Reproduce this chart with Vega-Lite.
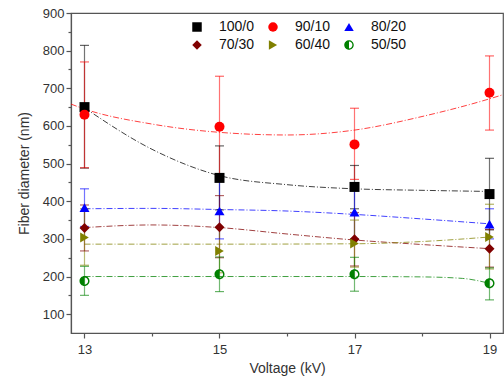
{
  "$schema": "https://vega.github.io/schema/vega-lite/v6.json",
  "width": 432,
  "height": 320,
  "autosize": {"type": "none"},
  "padding": {"left": 71, "top": 13, "right": 1, "bottom": 47},
  "background": "white",
  "config": {
    "view": {"stroke": "#555", "strokeWidth": 1.2},
    "font": "Liberation Sans",
    "axis": {"labelFont": "Liberation Sans", "titleFont": "Liberation Sans", "labelColor": "#333", "titleColor": "#333", "domainColor": "#555", "tickColor": "#555", "domainWidth": 1.2, "tickWidth": 1.2, "grid": false, "titleFontWeight": "normal", "labelFontSize": 13, "titleFontSize": 14, "labelOverlap": false},
    "axisY": {"labelOverlap": false}
  },
  "datasets": {
    "pts": [
      {"s": "100/0", "v": 13, "d": 650, "lo": 488, "hi": 814},
      {"s": "100/0", "v": 15, "d": 462, "lo": 377, "hi": 547},
      {"s": "100/0", "v": 17, "d": 438, "lo": 380, "hi": 495},
      {"s": "100/0", "v": 19, "d": 419, "lo": 324, "hi": 514},
      {"s": "90/10", "v": 13, "d": 630, "lo": 489, "hi": 770},
      {"s": "90/10", "v": 15, "d": 598, "lo": 464, "hi": 732},
      {"s": "90/10", "v": 17, "d": 551, "lo": 458, "hi": 647},
      {"s": "90/10", "v": 19, "d": 688, "lo": 589, "hi": 786},
      {"s": "80/20", "v": 13, "d": 383, "lo": 333, "hi": 433},
      {"s": "80/20", "v": 15, "d": 374, "lo": 300, "hi": 455},
      {"s": "80/20", "v": 17, "d": 371, "lo": 300, "hi": 440},
      {"s": "80/20", "v": 19, "d": 339, "lo": 300, "hi": 380},
      {"s": "70/30", "v": 13, "d": 329, "lo": 268, "hi": 390},
      {"s": "70/30", "v": 15, "d": 331, "lo": 250, "hi": 415},
      {"s": "70/30", "v": 17, "d": 299, "lo": 228, "hi": 370},
      {"s": "70/30", "v": 19, "d": 274, "lo": 225, "hi": 325},
      {"s": "60/40", "v": 13, "d": 304, "lo": 230, "hi": 380},
      {"s": "60/40", "v": 15, "d": 268, "lo": 210, "hi": 330},
      {"s": "60/40", "v": 17, "d": 288, "lo": 225, "hi": 350},
      {"s": "60/40", "v": 19, "d": 305, "lo": 220, "hi": 392},
      {"s": "50/50", "v": 13, "d": 188, "lo": 150, "hi": 227},
      {"s": "50/50", "v": 15, "d": 206, "lo": 160, "hi": 252},
      {"s": "50/50", "v": 17, "d": 206, "lo": 161, "hi": 251},
      {"s": "50/50", "v": 19, "d": 182, "lo": 138, "hi": 223}
    ],
    "fits": [
      {"s": "90/10", "v": 12.8, "f": 658},
      {"s": "90/10", "v": 13, "f": 645},
      {"s": "90/10", "v": 14, "f": 605},
      {"s": "90/10", "v": 15, "f": 583},
      {"s": "90/10", "v": 16, "f": 576},
      {"s": "90/10", "v": 17, "f": 589},
      {"s": "90/10", "v": 18, "f": 625},
      {"s": "90/10", "v": 19, "f": 672},
      {"s": "90/10", "v": 19.2, "f": 683},
      {"s": "100/0", "v": 13, "f": 648},
      {"s": "100/0", "v": 14, "f": 538},
      {"s": "100/0", "v": 15, "f": 468},
      {"s": "100/0", "v": 16, "f": 444},
      {"s": "100/0", "v": 17, "f": 433},
      {"s": "100/0", "v": 18, "f": 429},
      {"s": "100/0", "v": 19, "f": 426},
      {"s": "80/20", "v": 13, "f": 380},
      {"s": "80/20", "v": 14, "f": 381},
      {"s": "80/20", "v": 15, "f": 378},
      {"s": "80/20", "v": 16, "f": 374},
      {"s": "80/20", "v": 17, "f": 365},
      {"s": "80/20", "v": 18, "f": 353},
      {"s": "80/20", "v": 19, "f": 340},
      {"s": "70/30", "v": 13, "f": 330},
      {"s": "70/30", "v": 14, "f": 337},
      {"s": "70/30", "v": 15, "f": 330},
      {"s": "70/30", "v": 16, "f": 313},
      {"s": "70/30", "v": 17, "f": 297},
      {"s": "70/30", "v": 18, "f": 285},
      {"s": "70/30", "v": 19, "f": 274},
      {"s": "60/40", "v": 13, "f": 286},
      {"s": "60/40", "v": 15, "f": 286},
      {"s": "60/40", "v": 17, "f": 287},
      {"s": "60/40", "v": 18, "f": 293},
      {"s": "60/40", "v": 19, "f": 305},
      {"s": "50/50", "v": 13, "f": 200},
      {"s": "50/50", "v": 15, "f": 200},
      {"s": "50/50", "v": 17, "f": 200},
      {"s": "50/50", "v": 18, "f": 199},
      {"s": "50/50", "v": 18.6, "f": 195},
      {"s": "50/50", "v": 19, "f": 182}
    ]
  },
  "encoding": {
    "x": {"field": "v", "type": "quantitative", "scale": {"domain": [12.8, 19.2], "nice": false, "zero": false},
      "axis": {"title": "Voltage (kV)", "values": [13, 14, 15, 16, 17, 18, 19], "labelOverlap": false, "labelPadding": 5, "labelExpr": "datum.value % 2 === 1 ? datum.label : ''", "tickSize": {"condition": {"test": "datum.value % 2 === 1", "value": 5}, "value": 3}, "titlePadding": 5}},
    "y": {"type": "quantitative", "scale": {"domain": [50, 900], "nice": false, "zero": false},
      "axis": {"title": "Fiber diameter (nm)", "values": [100, 150, 200, 250, 300, 350, 400, 450, 500, 550, 600, 650, 700, 750, 800, 850, 900], "labelOverlap": false, "labelExpr": "datum.value % 100 == 0 ? format(datum.value, 'd') : ''", "tickSize": {"condition": {"test": "datum.value % 100 == 0", "value": 5}, "value": 3}, "titlePadding": 11}},
    "color": {"field": "s", "type": "nominal", "scale": {"domain": ["100/0", "90/10", "80/20", "70/30", "60/40", "50/50"], "range": ["#000000", "#ff0000", "#0000ff", "#800000", "#808000", "#008000"]},
      "legend": {"title": null, "orient": "none", "legendX": 119, "legendY": 7, "direction": "horizontal", "columns": 3, "columnPadding": 11, "rowPadding": 4, "labelFontSize": 14, "labelFont": "Liberation Sans", "labelColor": "#111", "labelOffset": 15, "symbolSize": 90, "symbolStrokeWidth": 0, "gridAlign": "all", "symbolOpacity": 1}}
  },
  "layer": [
    {
      "data": {"name": "fits"},
      "mark": {"type": "line", "interpolate": "monotone", "strokeWidth": 1, "strokeDash": [6, 2, 1, 2], "opacity": 0.75, "clip": true},
      "encoding": {
        "y": {"field": "f", "type": "quantitative"}
      }
    },
    {
      "data": {"name": "pts"},
      "mark": {"type": "rule", "strokeWidth": 1.2, "opacity": 0.55},
      "encoding": {
        "y": {"field": "lo", "type": "quantitative"},
        "y2": {"field": "hi"}
      }
    },
    {
      "data": {"name": "pts"},
      "mark": {"type": "tick", "orient": "horizontal", "size": 9, "thickness": 1.2, "opacity": 0.6},
      "encoding": {
        "y": {"field": "lo", "type": "quantitative"}
      }
    },
    {
      "data": {"name": "pts"},
      "mark": {"type": "tick", "orient": "horizontal", "size": 9, "thickness": 1.2, "opacity": 0.6},
      "encoding": {
        "y": {"field": "hi", "type": "quantitative"}
      }
    },
    {
      "data": {"name": "pts"},
      "mark": {"type": "point", "filled": true, "opacity": 1, "size": 100},
      "encoding": {
        "y": {"field": "d", "type": "quantitative"},
        "shape": {"field": "s", "type": "nominal", "scale": {"domain": ["100/0", "90/10", "80/20", "70/30", "60/40", "50/50"], "range": ["square", "circle", "triangle-up", "diamond", "triangle-right", "M0,-1A1,1 0 0,0 0,1Z M0,-1A1,1 0 0,1 0,1L0,0.72A0.72,0.72 0 0,0 0,-0.72Z"]},
          "legend": {"title": null, "orient": "none", "legendX": 119, "legendY": 7, "direction": "horizontal", "columns": 3, "columnPadding": 11, "rowPadding": 4, "labelFontSize": 14, "labelFont": "Liberation Sans", "labelColor": "#111", "labelOffset": 15, "symbolSize": 90, "symbolStrokeWidth": 0, "gridAlign": "all", "symbolOpacity": 1}}
      }
    }
  ]
}
